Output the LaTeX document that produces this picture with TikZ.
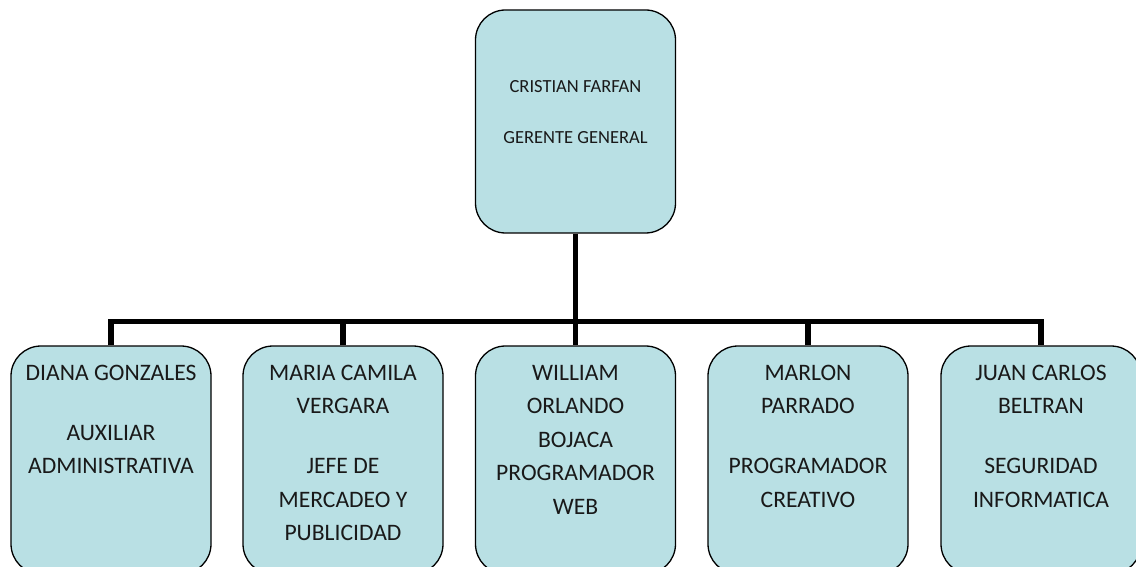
\documentclass[tikz,border=0pt]{standalone}
\usepackage{fontspec}
\setmainfont{Carlito}
\usetikzlibrary{positioning}
\definecolor{cajaazul}{RGB}{185,224,228}

\begin{document}
\begin{tikzpicture}[x=1pt,y=1pt,
		caja/.style={draw=black, line width=1.3pt, fill=cajaazul, rounded corners=30pt, minimum width=200pt, inner sep=0pt},
		jefe/.style={caja, minimum height=223pt},
		empleado/.style={caja, minimum height=228pt},
		texto/.style={inner sep=0pt, align=center, anchor=north, text=black!90},
		textojefe/.style={texto, font=\fontsize{18.5}{25.5}\selectfont},
		textoempleado/.style={texto, font=\fontsize{23.6}{33.5}\selectfont},
		linea/.style={line width=5.6pt}]
		\clip (0,0) rectangle (1136,566);

		% Gerente general
		\node[jefe] (gerente) at (575.5,444.5) {};
		\node[textojefe, below=71pt of gerente.north] (tgerente) {CRISTIAN FARFAN\\[25.5pt]GERENTE GENERAL};

		% Empleados
		\node[empleado] (diana) at (111,106) {};
		\node[empleado] (maria) at (343,106) {};
		\node[empleado] (william) at (575.5,106) {};
		\node[empleado] (marlon) at (808,106) {};
		\node[empleado] (juan) at (1041,106) {};

		\node[textoempleado, below=19.5pt of diana.north] (tdiana) {DIANA GONZALES\\[26.5pt]AUXILIAR\\ADMINISTRATIVA};
		\node[textoempleado, below=19.5pt of maria.north] (tmaria) {MARIA CAMILA\\VERGARA\\[26.5pt]JEFE DE\\MERCADEO Y\\PUBLICIDAD};
		\node[textoempleado, below=19.5pt of william.north] (twilliam) {WILLIAM\\ORLANDO\\BOJACA\\PROGRAMADOR\\WEB};
		\node[textoempleado, below=19.5pt of marlon.north] (tmarlon) {MARLON\\PARRADO\\[26.5pt]PROGRAMADOR\\CREATIVO};
		\node[textoempleado, below=19.5pt of juan.north] (tjuan) {JUAN CARLOS\\BELTRAN\\[26.5pt]SEGURIDAD\\INFORMATICA};

		% Lineas de mando
		\draw[linea] (gerente.south) -- (william.north);
		\draw[linea] (diana.north) -- ++(0,24) -| (juan.north);
		\draw[linea] (maria.north) -- ++(0,24);
		\draw[linea] (marlon.north) -- ++(0,24);

	\end{tikzpicture}
\end{document}
